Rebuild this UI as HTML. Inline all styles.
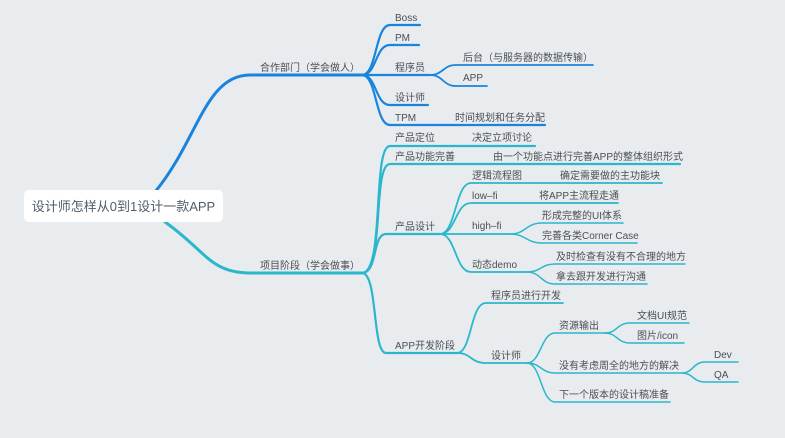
<!DOCTYPE html>
<html><head><meta charset="utf-8"><style>
html,body{margin:0;padding:0;background:#e9ecef;}
svg{display:block}
text{font-family:"Liberation Sans","Noto Sans CJK SC",sans-serif;font-size:10px;fill:#4a4f55;}
.b path{stroke:#1a84dc;fill:none;stroke-linecap:round}
.c path{stroke:#2bb6cc;fill:none;stroke-linecap:round}
</style></head><body>
<svg width="785" height="438" viewBox="0 0 785 438">
<g class="b">
<path d="M155,192 C198,140 205,75 250,75 L362,75" stroke-width="3"/>
<g stroke-width="2.2">
<path d="M362,75 C377,75 375,25 390,25 L420,25"/>
<path d="M362,75 C377,75 375,45 390,45 L419,45"/>
<path d="M362,75 L430,75"/>
<path d="M362,75 C377,75 375,105 390,105 L428,105"/>
<path d="M362,75 C377,75 375,125 390,125 L545,125"/>
</g>
<g stroke-width="1.8">
<path d="M430,75 C443,75 443,65 456,65 L593,65"/>
<path d="M430,75 C443,75 443,86 456,86 L487,86"/>
</g>
</g>
<g class="c">
<path d="M165,222 C205,250 210,273 250,273 L362,273" stroke-width="3"/>
<g stroke-width="2.2">
<path d="M362,273 C385,273 372,146 390,146 L535,146"/>
<path d="M362,273 C385,273 372,164 390,164 L680,164"/>
<path d="M362,273 C378,273 372,234 386,234 L440,234"/>
<path d="M362,273 C378,273 372,353 386,353 L457,353"/>
</g>
<g stroke-width="1.8">
<path d="M440,234 C456,234 455,183 471,183 L662,183"/>
<path d="M440,234 C456,234 455,203 471,203 L618,203"/>
<path d="M440,234 L510,234"/>
<path d="M440,234 C456,234 455,272 471,272 L527,272"/>
<path d="M457,353 C472,353 470,303 486,303 L563,303"/>
<path d="M457,353 C472,353 470,363 486,363 L527,363"/>
</g>
<g stroke-width="1.5">
<path d="M510,234 C526,234 526,223 542,223 L623,223"/>
<path d="M510,234 C526,234 526,243 542,243 L637,243"/>
<path d="M527,272 C541,272 541,264 555,264 L685,264"/>
<path d="M527,272 C541,272 541,284 555,284 L647,284"/>
<path d="M527,363 C541,363 541,333 555,333 L605,333"/>
<path d="M527,363 C541,363 541,373 555,373 L682,373"/>
<path d="M527,363 C541,363 541,402 555,402 L670,402"/>
<path d="M605,333 C617,333 617,323 630,323 L689,323"/>
<path d="M605,333 C617,333 617,343 630,343 L684,343"/>
<path d="M682,373 C693,373 693,362 705,362 L738,362"/>
<path d="M682,373 C693,373 693,382 705,382 L738,382"/>
</g>
</g>
<rect x="24" y="190" width="199" height="32" rx="5" fill="#fff"/>
<text x="123.5" y="211" text-anchor="middle" style="font-size:13px;fill:#4f5d6a">设计师怎样从0到1设计一款APP</text>
<text x="260" y="71">合作部门（学会做人）</text>
<text x="260" y="269">项目阶段（学会做事）</text>
<text x="395" y="21">Boss</text>
<text x="395" y="41">PM</text>
<text x="395" y="71">程序员</text>
<text x="463" y="61">后台（与服务器的数据传输）</text>
<text x="463" y="81">APP</text>
<text x="395" y="101">设计师</text>
<text x="395" y="121">TPM</text>
<text x="455" y="121">时间规划和任务分配</text>
<text x="395" y="141">产品定位</text>
<text x="472" y="141">决定立项讨论</text>
<text x="395" y="160">产品功能完善</text>
<text x="493" y="160">由一个功能点进行完善APP的整体组织形式</text>
<text x="395" y="230">产品设计</text>
<text x="472" y="179">逻辑流程图</text>
<text x="560" y="179">确定需要做的主功能块</text>
<text x="472" y="199">low–fi</text>
<text x="539" y="199">将APP主流程走通</text>
<text x="472" y="229">high–fi</text>
<text x="542" y="219">形成完整的UI体系</text>
<text x="542" y="239">完善各类Corner Case</text>
<text x="472" y="268">动态demo</text>
<text x="556" y="260">及时检查有没有不合理的地方</text>
<text x="556" y="280">拿去跟开发进行沟通</text>
<text x="395" y="349">APP开发阶段</text>
<text x="491" y="299">程序员进行开发</text>
<text x="491" y="359">设计师</text>
<text x="559" y="329">资源输出</text>
<text x="637" y="319">文档UI规范</text>
<text x="637" y="339">图片/icon</text>
<text x="559" y="369">没有考虑周全的地方的解决</text>
<text x="714" y="358">Dev</text>
<text x="714" y="378">QA</text>
<text x="559" y="398">下一个版本的设计稿准备</text>
</svg>
</body></html>
